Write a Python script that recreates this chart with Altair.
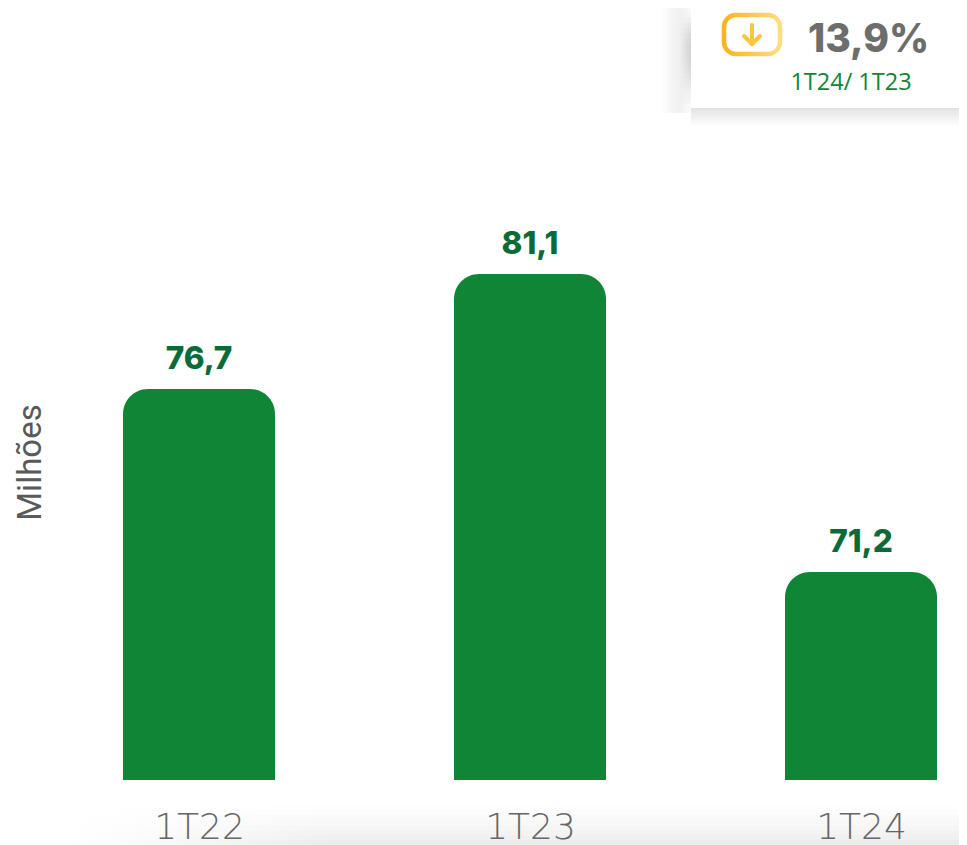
import altair as alt
import pandas as pd

quarters = ["1T22", "1T23", "1T24"]
values = [76.7, 81.1, 71.2]
value_labels = ["76,7", "81,1", "71,2"]
change_text = "13,9%"
change_period = "1T24/ 1T23"
axis_title = "Milhões"

GREEN = "#108535"
DARK_GREEN = "#0b6b38"
one = pd.DataFrame({"a": [0]})
df = pd.DataFrame({"q": quarters, "v": values, "label": value_labels})

bottom_greys = ["#fefefe", "#fcfcfc", "#fafafa", "#f8f8f8", "#f6f6f6", "#f3f3f3", "#f0f0f0", "#ececec"]
left_greys = ["#fbfbfb", "#f6f6f6", "#efefef", "#e6e6e6", "#dedede", "#d7d7d7", "#d2d2d2", "#cfcfcf",
              "#cfcfcf", "#d0d0d0", "#d2d2d2", "#d5d5d5", "#d9d9d9", "#dedede", "#e3e3e3", "#e9e9e9",
              "#eeeeee", "#f3f3f3", "#f7f7f7", "#fbfbfb", "#fdfdfd"]


def stops(*pairs):
    return [alt.GradientStop(color=c, offset=o) for o, c in pairs]


def box(x, x2, y, y2, **mark):
    return alt.Chart(one).mark_rect(**mark).encode(
        x=alt.value(x), x2=alt.value(x2), y=alt.value(y), y2=alt.value(y2)
    )


def seg(x, x2, y, y2):
    return alt.Chart(one).mark_rule(stroke="#fcc640", strokeWidth=4, strokeCap="round").encode(
        x=alt.value(x), x2=alt.value(x2), y=alt.value(y), y2=alt.value(y2)
    )


def label(text, x, y, size, color, font, weight):
    return alt.Chart(one).mark_text(
        font=font, fontSize=size, fontWeight=weight, color=color, align="center", baseline="alphabetic"
    ).encode(x=alt.value(x), y=alt.value(y), text=alt.value(text))


def hfade(c):
    return alt.LinearGradient(gradient="linear", x1=0, x2=1, y1=0, y2=0,
                              stops=stops((0, "#ffffff"), (0.6, "#f0f0f0"), (1, c)))


bottom_shade = alt.layer(*[
    box(60, 951, 797 + 5 * i, 802 + 5 * i, fill=alt.LinearGradient(
        gradient="linear", x1=0, x2=1, y1=0, y2=0,
        stops=stops((0, "#ffffff"), (0.3, c), (1, c))))
    for i, c in enumerate(bottom_greys)
])
left_shadow = alt.layer(*[
    box(652, 684, 0 + 5 * i, 5 + 5 * i, fill=hfade(c)) for i, c in enumerate(left_greys)
])
bottom_shadow = box(683, 951, 100, 118, fill=alt.LinearGradient(
    gradient="linear", x1=0, x2=0, y1=0, y2=1,
    stops=stops((0, "#e2e2e2"), (1, "#ffffff"))))
card = box(683, 951, 0, 100, fill="#ffffff")
icon = box(716, 772, 7, 46, cornerRadius=12, strokeWidth=4.5, fill="#ffffff",
           stroke=alt.LinearGradient(gradient="linear", x1=0, x2=1, y1=0, y2=0,
                                     stops=stops((0, "#fbb41f"), (1, "#ffdd80"))))
arrow = seg(744, 744, 17, 36) + seg(736, 744, 28, 36) + seg(752, 744, 28, 36)

x_scale = alt.Scale(type="point", domain=quarters, range=[191, 853], padding=0)
y_scale = alt.Scale(domain=[64.95, 71.2, 76.7, 81.1], range=[772, 564, 381, 266], zero=False, nice=False)

x_enc = alt.X("q:N", title=None, sort=quarters, scale=x_scale,
              axis=alt.Axis(domain=False, ticks=False, labelAngle=0, labelPadding=58, labelBaseline="alphabetic",
                            labelFont="DejaVu Sans", labelFontWeight=200, labelFontSize=36,
                            labelColor="#666666", grid=False, zindex=1))
y_enc = alt.Y("v:Q", title=axis_title, scale=y_scale,
              axis=alt.Axis(domain=False, ticks=False, labels=False, grid=False,
                            titleX=32, titleY=454, titleAngle=270, titleAlign="center", titleBaseline="alphabetic",
                            titleFont="Roboto", titleFontWeight=400, titleFontSize=33, titleColor="#595959"))

bars = alt.Chart(df).mark_bar(size=152, color=GREEN, cornerRadiusTopLeft=25, cornerRadiusTopRight=25).encode(
    x=x_enc, y=y_enc, y2=alt.datum(64.95))
texts = alt.Chart(df).mark_text(font="Inter", fontSize=31.5, fontWeight=800, color=DARK_GREEN,
                                baseline="alphabetic", dy=-20).encode(
    x=x_enc, y=y_enc, text="label:N")

chart = alt.layer(
    bottom_shade, left_shadow, bottom_shadow, card, icon, arrow,
    bars, texts,
    label(change_text, 860.5, 44, 39, "#6d6d6d", "Inter", 800),
    label(change_period, 843, 82, 23.5, GREEN, "Open Sans", 400),
).properties(
    width=951, height=772,
    padding={"left": 0, "top": 0, "right": 0, "bottom": 65},
    autosize=alt.AutoSizeParams(type="none"),
    background="#ffffff",
).configure_view(stroke=None)

chart.save("out.html", embed_options={"renderer": "svg", "actions": False})
